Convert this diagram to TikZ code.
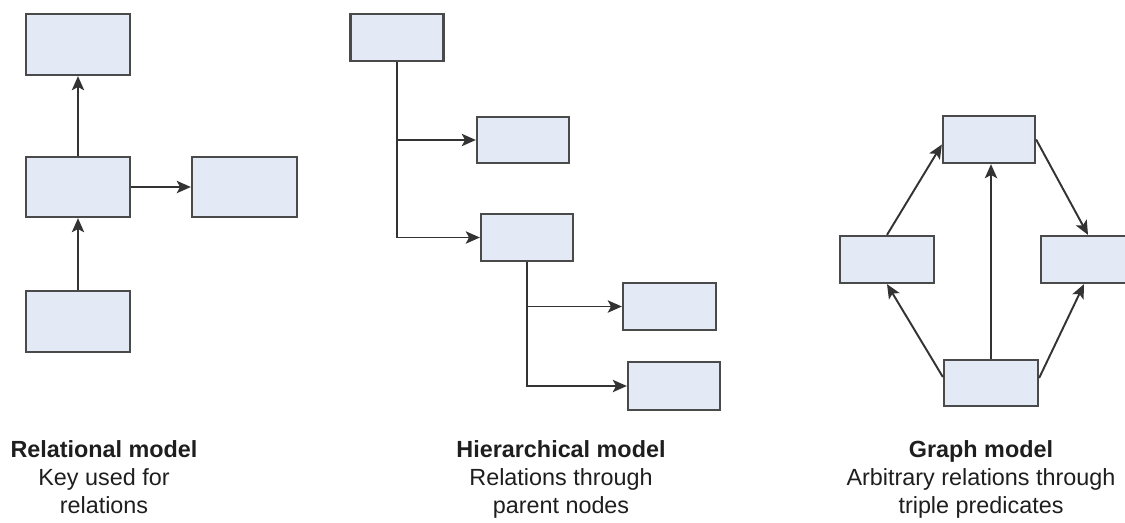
\documentclass[tikz,border=0pt]{standalone}
\usepackage{fontspec}
\setmainfont{Liberation Sans}
\usetikzlibrary{arrows.meta,calc}
\definecolor{boxfill}{HTML}{E3EAF6}
\definecolor{boxline}{HTML}{4A4A4A}
\definecolor{linkline}{HTML}{333333}
\definecolor{captext}{HTML}{1E1E1E}
\begin{document}
\begin{tikzpicture}[x=0.02cm,y=-0.02cm,
  entity/.style={draw=boxline,fill=boxfill,line width=1.3pt,rectangle,inner sep=0pt},
  link/.style={draw=linkline,line width=1.1pt,-{Stealth[length=8pt,width=7pt,inset=1.8pt]}},
  caption/.style={anchor=north,align=center,text=captext,inner sep=0pt,
    font=\fontsize{13.3}{15.9}\selectfont}]
\useasboundingbox (0,0) rectangle (1125,522);
\clip (0,0) rectangle (1125,522);

% Relational model
\node[entity,minimum width=2.08cm,minimum height=1.22cm] (r1) at (78,44.5) {};
\node[entity,minimum width=2.08cm,minimum height=1.20cm] (r2) at (78,187) {};
\node[entity,minimum width=2.10cm,minimum height=1.20cm] (r3) at (244.5,187) {};
\node[entity,minimum width=2.08cm,minimum height=1.22cm] (r4) at (78,321.5) {};
\draw[link] (r2.north) -- (r1.south);
\draw[link] (r2.east) -- (r3.west);
\draw[link] (r4.north) -- (r2.south);

% Hierarchical model
\node[entity,minimum width=1.86cm,minimum height=0.94cm] (h0) at (397,37.5) {};
\node[entity,minimum width=1.84cm,minimum height=0.92cm] (h1) at (523,140) {};
\node[entity,minimum width=1.84cm,minimum height=0.94cm] (h2) at (527,237.5) {};
\node[entity,minimum width=1.86cm,minimum height=0.94cm] (h3) at (669.5,306.5) {};
\node[entity,minimum width=1.84cm,minimum height=0.96cm] (h4) at (674,386) {};
\draw[link] (h0.south) |- (h1.west);
\draw[link] (h0.south) |- (h2.west);
\draw[link] (h2.south) |- (h3.west);
\draw[link] (h2.south) |- (h4.west);

% Graph model
\node[entity,minimum width=1.84cm,minimum height=0.94cm] (g0) at (989,139.5) {};
\node[entity,minimum width=1.88cm,minimum height=0.94cm] (gl) at (887,259.5) {};
\node[entity,minimum width=1.88cm,minimum height=0.94cm] (gr) at (1088,259.5) {};
\node[entity,minimum width=1.88cm,minimum height=0.92cm] (gb) at (991,383) {};
\draw[link] (gl.north) -- ($(g0.west)+(0,5)$);
\draw[link] (g0.east) -- (gr.north);
\draw[link] ($(gb.west)+(0,-6)$) -- (gl.south);
\draw[link] ($(gb.east)+(0,-5)$) -- ($(gr.south)+(-4,0)$);
\draw[link] (gb.north) -- (gb.north |- g0.south);

% Captions
\node[caption] (c1) at (104,440) {\textbf{Relational model}\\Key used for\\relations};
\node[caption] (c2) at (561,440) {\textbf{Hierarchical model}\\Relations through\\parent nodes};
\node[caption] (c3) at (981,440) {\textbf{Graph model}\\Arbitrary relations through\\triple predicates};
\end{tikzpicture}
\end{document}
